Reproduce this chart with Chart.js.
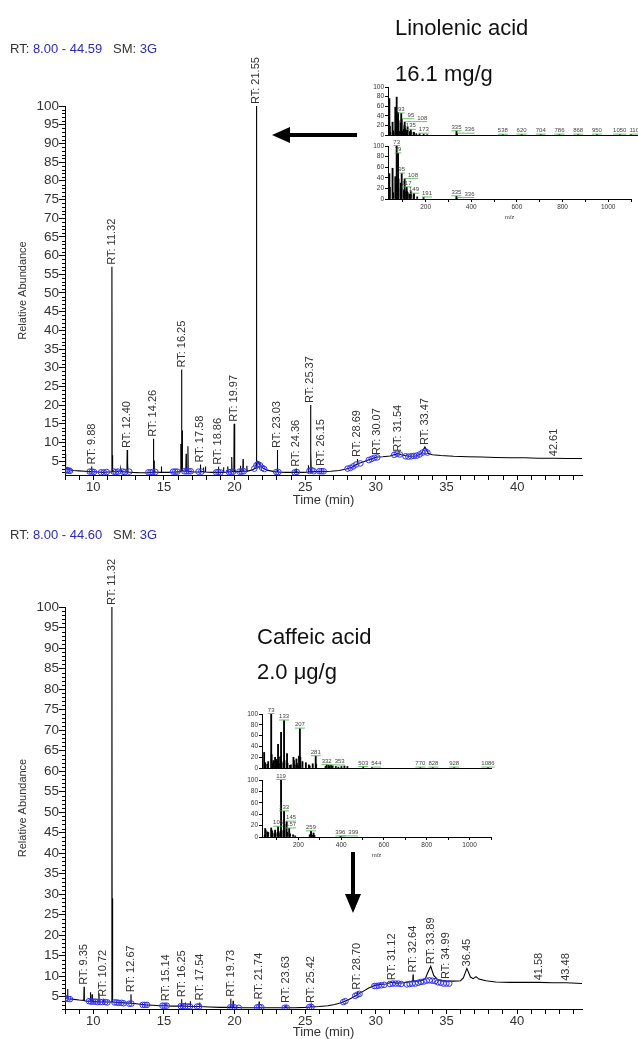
<!DOCTYPE html>
<html>
<head>
<meta charset="utf-8">
<script src="https://cdn.jsdelivr.net/npm/chart.js@4.4.0/dist/chart.umd.min.js"></script>
<style>
html, body { margin: 0; padding: 0; background: #fff; width: 638px; height: 1039px; overflow: hidden; position: relative; font-family: "Liberation Sans", Arial, sans-serif; }
canvas { position: absolute; }
.txt { position: absolute; white-space: nowrap; color: #111; }
.hdr { font-size: 13px; color: #333; line-height: 15px; }
.hdr b { font-weight: normal; color: #2b2bb8; }
.big { font-size: 22px; line-height: 25px; }
</style>
</head>
<body>
<canvas id="chrom1" width="638" height="520" style="left:0;top:0"></canvas>
<canvas id="chrom2" width="638" height="525" style="left:0;top:520px"></canvas>
<canvas id="linSample"></canvas>
<canvas id="linRef"></canvas>
<canvas id="cafSample"></canvas>
<canvas id="cafRef"></canvas>

<div class="txt hdr" style="left:10px;top:41px">RT: <b>8.00 - 44.59</b>&nbsp;&nbsp; SM: <b>3G</b></div>
<div class="txt hdr" style="left:10px;top:527px">RT: <b>8.00 - 44.60</b>&nbsp;&nbsp; SM: <b>3G</b></div>
<div class="txt big" style="left:395px;top:15px">Linolenic acid</div>
<div class="txt big" style="left:395px;top:61px">16.1 mg/g</div>
<div class="txt big" style="left:257px;top:624px">Caffeic acid</div>
<div class="txt big" style="left:257px;top:659px">2.0 μg/g</div>

<svg width="638" height="1039" style="position:absolute;left:0;top:0">
  <polygon points="272,135 290,127 290,133 357,133 357,137 290,137 290,143" fill="#000"/>
  <polygon points="351,852 355,852 355,894 361,894 353,913 345,894 351,894" fill="#000"/>
</svg>

<script>
// top run: linolenic acid sample, [time, abundance]
const trace1 = [
  [8.00,2.6],[8.03,7.0],[8.06,2.8],[8.15,3.2],[8.3,2.7],[8.6,2.5],[9.0,2.4],[9.4,2.3],[9.7,2.2],
  [9.86,2.2],[9.88,3.6],[9.90,2.2],[10.3,2.1],[10.7,2.0],[11.0,2.1],[11.30,2.1],[11.32,57],[11.34,2.4],
  [11.36,6.6],[11.38,2.3],[11.6,2.1],[11.9,2.4],[11.95,3.0],[12.0,2.2],[12.38,2.1],[12.40,8.0],[12.42,2.4],
  [12.44,4.6],[12.46,2.1],[12.8,2.0],[13.3,1.9],[13.8,1.9],[14.24,2.0],[14.26,11.0],[14.28,2.3],[14.30,5.2],
  [14.32,2.1],[14.80,2.0],[14.82,3.6],[14.84,2.0],[15.3,2.0],[15.8,2.1],[16.18,2.2],[16.20,9.6],[16.22,2.4],
  [16.25,29.5],[16.27,2.6],[16.29,13.2],[16.31,2.4],[16.55,2.3],[16.57,7.0],[16.59,2.3],[16.68,2.3],[16.70,9.0],
  [16.72,2.3],[17.1,2.1],[17.56,2.1],[17.58,4.1],[17.60,2.2],[17.78,2.2],[17.80,3.3],[17.82,2.1],[17.92,2.1],
  [17.94,3.6],[17.96,2.1],[18.4,2.0],[18.84,2.0],[18.86,3.5],[18.88,2.0],[19.20,2.0],[19.22,3.4],[19.24,2.0],
  [19.50,2.1],[19.52,3.6],[19.54,2.1],[19.78,2.2],[19.80,6.1],[19.82,2.2],[19.95,2.2],[19.97,15.0],[19.99,2.4],
  [20.01,10.6],[20.03,2.2],[20.40,2.2],[20.42,3.8],[20.44,2.2],[20.58,2.3],[20.60,5.6],[20.62,2.3],[20.85,2.3],
  [20.87,3.8],[20.89,2.3],[21.2,2.6],[21.53,3.2],[21.55,100],[21.57,3.5],[21.60,5.0],[21.7,4.6],[21.9,3.4],
  [22.3,2.6],[22.8,2.2],[23.01,2.1],[23.03,8.0],[23.05,2.1],[23.6,2.0],[24.34,2.0],[24.36,3.0],[24.38,2.0],
  [24.9,2.0],[25.20,2.1],[25.22,3.9],[25.24,2.1],[25.35,2.2],[25.37,20.0],[25.39,2.4],[25.41,7.6],[25.43,2.2],
  [25.8,2.2],[26.13,2.2],[26.15,3.2],[26.17,2.2],[26.8,2.3],[27.4,2.5],[27.9,2.9],[28.3,3.4],[28.67,4.2],
  [28.69,5.6],[28.71,4.3],[29.1,4.8],[29.5,5.4],[30.07,6.1],[30.5,6.2],[31.0,6.4],[31.54,7.0],[31.8,6.7],
  [32.3,6.3],[32.8,6.4],[33.2,6.9],[33.47,8.8],[33.7,7.1],[34.0,6.7],[34.6,6.5],[35.5,6.3],[36.5,6.2],
  [37.5,6.1],[38.5,6.0],[39.5,5.9],[40.5,5.9],[41.5,5.8],[42.61,5.8],[43.5,5.7],[44.59,5.7]
];
const marks1 = [
  [8.05,2.5],[8.15,2.6],[8.25,2.5],[8.35,2.4],[9.75,2.2],[9.9,2.2],[10.05,2.1],[10.55,2.0],[10.75,2.0],
  [10.95,2.1],[11.45,2.2],[11.6,2.1],[11.75,2.2],[12.1,2.2],[12.25,2.1],[12.55,2.2],[13.9,2.0],[14.05,2.0],
  [14.2,2.1],[14.4,2.1],[15.65,2.2],[15.8,2.2],[15.95,2.2],[16.45,2.3],[16.6,2.3],[16.75,2.3],[16.9,2.3],
  [17.45,2.2],[17.65,2.2],[18.7,2.0],[18.85,2.1],[19.0,2.0],[19.6,2.1],[19.75,2.1],[19.9,2.2],[20.35,2.2],
  [20.5,2.2],[20.65,2.3],[21.4,3.0],[21.55,3.9],[21.65,4.2],[21.8,3.9],[21.95,3.2],[22.1,2.9],[22.95,2.1],
  [23.1,2.1],[24.25,2.0],[24.4,2.1],[25.3,2.4],[25.45,2.6],[25.6,2.3],[26.0,2.3],[26.15,2.3],[26.3,2.3],
  [28.0,3.0],[28.2,3.2],[28.4,3.6],[28.6,4.1],[28.9,4.4],[29.5,5.3],[29.7,5.6],[29.9,5.9],[30.1,6.0],
  [31.3,6.7],[31.5,7.0],[31.7,6.8],[32.1,6.3],[32.3,6.2],[32.5,6.3],[32.7,6.4],[32.9,6.5],[33.1,6.8],
  [33.3,7.3],[33.5,7.6],[33.65,7.3]
];
const peak1Time = [9.88, 11.32, 12.40, 14.26, 16.25, 17.58, 18.86, 19.97, 21.55, 23.03, 24.36, 25.37, 26.15, 28.69, 30.07, 31.54, 33.47, 42.61];
const peak1Height = [3.6, 57, 8.0, 11.0, 29.5, 4.1, 3.5, 15.0, 100, 8.0, 3.0, 20.0, 3.2, 5.6, 6.1, 7.0, 8.8, 5.8];
const peak1Text = ['RT: 9.88', 'RT: 11.32', 'RT: 12.40', 'RT: 14.26', 'RT: 16.25', 'RT: 17.58', 'RT: 18.86', 'RT: 19.97', 'RT: 21.55',
  'RT: 23.03', 'RT: 24.36', 'RT: 25.37', 'RT: 26.15', 'RT: 28.69', 'RT: 30.07', 'RT: 31.54', 'RT: 33.47', '42.61'];

// bottom run: caffeic acid sample
const trace2 = [
  [8.00,4.7],[8.02,11.0],[8.04,4.8],[8.15,4.6],[8.18,6.9],[8.21,4.5],[8.5,4.4],[9.0,4.2],[9.33,4.1],[9.35,7.4],
  [9.37,4.0],[9.6,3.9],[9.78,3.9],[9.80,6.1],[9.82,3.9],[9.90,3.9],[9.92,5.6],[9.94,3.8],[10.2,3.8],[10.38,3.7],
  [10.40,5.9],[10.42,3.7],[10.70,3.7],[10.72,4.5],[10.74,3.7],[11.0,3.7],[11.30,3.7],[11.32,100],[11.34,3.8],
  [11.36,29],[11.38,3.7],[11.8,3.6],[12.2,3.5],[12.65,3.4],[12.67,5.6],[12.69,3.4],[13.2,3.2],[13.7,3.0],
  [14.2,2.9],[14.7,2.8],[15.12,2.8],[15.14,3.4],[15.16,2.8],[15.6,2.7],[16.0,2.7],[16.23,2.7],[16.25,4.4],
  [16.27,2.7],[16.5,2.7],[16.52,3.6],[16.54,2.7],[16.85,2.6],[16.87,3.9],[16.89,2.6],[17.2,2.6],[17.52,2.6],
  [17.54,3.6],[17.56,2.6],[18.2,2.5],[19.0,2.4],[19.71,2.4],[19.73,4.5],[19.75,2.4],[19.88,2.4],[19.90,4.0],
  [19.92,2.4],[20.5,2.3],[21.2,2.3],[21.72,2.3],[21.74,3.8],[21.76,2.3],[22.5,2.3],[23.2,2.3],[23.61,2.3],
  [23.63,3.0],[23.65,2.3],[24.3,2.3],[25.0,2.4],[25.40,2.5],[25.42,3.0],[25.44,2.5],[26.0,2.6],[26.6,2.8],
  [27.1,3.1],[27.6,3.6],[28.1,4.3],[28.68,5.4],[28.70,6.2],[28.72,5.5],[29.1,6.3],[29.5,7.1],[29.9,7.7],
  [30.3,8.0],[30.7,8.1],[31.12,8.5],[31.5,8.3],[32.0,8.4],[32.5,8.7],[32.62,8.8],[32.64,10.4],[32.66,8.8],
  [33.0,8.8],[33.3,9.0],[33.5,9.4],[33.7,11.0],[33.89,12.4],[34.1,10.2],[34.4,9.1],[34.99,8.8],[35.5,8.8],
  [36.0,8.9],[36.2,9.6],[36.45,11.9],[36.7,9.8],[36.9,9.4],[37.1,9.9],[37.3,9.3],[37.8,8.9],[38.5,8.6],
  [39.5,8.5],[40.5,8.5],[41.58,8.5],[42.5,8.4],[43.48,8.4],[44.60,8.2]
];
const marks2 = [
  [8.05,4.6],[8.2,4.5],[8.35,4.4],[9.7,3.9],[9.85,3.8],[10.0,3.8],[10.15,3.8],[10.3,3.7],[10.5,3.7],[10.65,3.7],
  [10.85,3.7],[11.0,3.6],[11.5,3.6],[11.65,3.6],[11.8,3.5],[12.0,3.5],[12.15,3.4],[12.55,3.3],[12.7,3.3],
  [13.5,3.0],[13.65,3.0],[13.8,3.0],[14.9,2.8],[15.05,2.8],[15.2,2.8],[16.2,2.7],[16.35,2.7],[16.5,2.6],
  [16.7,2.6],[16.85,2.6],[17.35,2.6],[17.5,2.6],[19.7,2.4],[19.85,2.4],[20.0,2.4],[20.3,2.3],[21.6,2.4],
  [21.75,2.5],[21.9,2.4],[23.55,2.3],[23.7,2.3],[25.3,2.5],[25.45,2.5],[27.7,3.7],[27.85,3.9],[28.55,5.2],
  [28.7,5.5],[28.85,5.7],[29.9,7.6],[30.05,7.6],[30.2,7.7],[30.4,7.8],[30.6,7.9],[31.0,8.1],[31.2,8.2],
  [31.4,8.2],[31.6,8.2],[31.8,8.1],[32.2,8.0],[32.4,8.1],[32.6,8.2],[32.8,8.2],[33.0,8.4],[33.2,8.6],
  [33.4,8.7],[33.6,8.9],[33.8,9.0],[34.0,8.9],[34.2,8.8],[34.4,8.5],[34.6,8.4],[34.8,8.2],[35.0,8.2],[35.2,8.2]
];
const peak2Time = [9.35, 10.72, 11.32, 12.67, 15.14, 16.25, 17.54, 19.73, 21.74, 23.63, 25.42, 28.70, 31.12, 32.64, 33.89, 34.99, 36.45, 41.58, 43.48];
const peak2Height = [7.4, 4.5, 100, 5.6, 3.4, 4.4, 3.6, 4.5, 3.8, 3.0, 3.0, 6.2, 8.5, 10.4, 12.4, 8.8, 11.9, 8.5, 8.4];
const peak2Text = ['RT: 9.35', 'RT: 10.72', 'RT: 11.32', 'RT: 12.67', 'RT: 15.14', 'RT: 16.25', 'RT: 17.54', 'RT: 19.73', 'RT: 21.74',
  'RT: 23.63', 'RT: 25.42', 'RT: 28.70', 'RT: 31.12', 'RT: 32.64', 'RT: 33.89', 'RT: 34.99', '36.45', '41.58', '43.48'];

const xMajor = [10, 15, 20, 25, 30, 35, 40];
const yMajor = [5, 10, 15, 20, 25, 30, 35, 40, 45, 50, 55, 60, 65, 70, 75, 80, 85, 90, 95, 100];

// mass spectra, [m/z, relative intensity]
const linSample = [
  [41,76],[43,18],[45,6],[55,27],[57,9],[59,5],[67,58],[69,12],[73,79],[75,37],[77,10],[79,47],[81,30],[83,8],
  [91,25],[93,45],[95,33],[97,8],[105,12],[107,20],[108,27],[109,14],[117,9],[119,12],[121,16],[131,7],[133,8],
  [135,11],[147,6],[149,5],[159,3],[173,3],[191,2],[207,1],[335,8],[336,3],[337,2],[538,1],[620,1],[704,1],
  [786,1],[868,1],[950,1],[1050,1],[1100,1]
];
const linSampleLabels = [93, 95, 108, 135, 173, 335, 336, 538, 620, 704, 786, 868, 950, 1050, 1100];
const linRef = [
  [41,48],[43,22],[55,58],[57,12],[67,42],[69,10],[73,100],[75,32],[77,12],[79,86],[80,20],[81,38],[91,30],
  [93,28],[95,48],[105,16],[107,18],[108,38],[109,14],[117,22],[119,14],[121,12],[129,9],[133,10],[135,14],
  [147,8],[149,10],[163,4],[191,3],[335,5],[336,2]
];
const linRefLabels = [73, 79, 95, 108, 117, 149, 191, 335, 336];
const cafSample = [
  [40,29],[43,6],[45,10],[55,7],[59,12],[73,100],[75,25],[77,9],[83,14],[91,20],[93,12],[97,16],[103,12],
  [105,44],[109,8],[115,20],[117,22],[119,66],[121,12],[131,9],[133,88],[135,14],[147,27],[149,9],[161,5],
  [165,6],[177,20],[179,14],[183,6],[191,17],[193,9],[197,5],[203,22],[207,73],[209,20],[219,12],[235,10],
  [249,6],[253,4],[267,8],[281,22],[283,7],[327,3],[332,6],[341,5],[345,4],[353,5],[360,4],[375,3],[387,2],
  [401,3],[415,4],[429,3],[503,2],[544,1],[770,1],[828,1],[928,1],[1086,1]
];
const cafSampleLabels = [73, 133, 207, 281, 332, 353, 503, 544, 770, 828, 928, 1086];
const cafRef = [
  [43,4],[45,15],[47,12],[55,9],[59,8],[73,16],[75,12],[77,10],[79,7],[89,6],[91,12],[93,6],[103,8],[105,18],
  [107,9],[115,6],[117,10],[119,100],[121,12],[131,10],[133,45],[134,12],[135,22],[145,27],[147,8],[157,15],
  [159,6],[161,5],[175,4],[185,2],[253,4],[259,10],[261,4],[267,3],[271,7],[275,3],[396,1],[399,1]
];
const cafRefLabels = [105, 119, 133, 145, 157, 259, 396, 399];
const mzMajor = [200, 400, 600, 800, 1000];
const intTicks = [0, 20, 40, 60, 80, 100];

Chart.defaults.font.family = '"Liberation Sans", Arial, sans-serif';
Chart.defaults.color = '#333';

function rtLabels(times, heights, texts) {
  return {
    id: 'rtLabels',
    afterDatasetsDraw(chart) {
      const { ctx, scales: { x, y } } = chart;
      ctx.save();
      // minor ticks on the abundance axis
      ctx.strokeStyle = '#000';
      ctx.lineWidth = 1;
      ctx.beginPath();
      for (let v = Math.ceil(y.min); v < 100; v++) {
        if (v % 5 === 0) continue;
        const py = Math.round(y.getPixelForValue(v)) + 0.5;
        ctx.moveTo(x.left - 3, py);
        ctx.lineTo(x.left, py);
      }
      ctx.stroke();
      ctx.fillStyle = '#333';
      ctx.font = '11px "Liberation Sans", Arial';
      ctx.textAlign = 'left';
      ctx.textBaseline = 'middle';
      times.forEach((t, i) => {
        const px = x.getPixelForValue(t);
        const py = y.getPixelForValue(heights[i]) - 2;
        ctx.save();
        ctx.translate(px, py);
        ctx.rotate(-Math.PI / 2);
        ctx.fillText(texts[i], 0, 0);
        ctx.restore();
      });
      ctx.restore();
    }
  };
}

function chromChart(id, trace, marks, pkT, pkH, pkTxt, xMax, yMin, pad, xH) {
  return new Chart(document.getElementById(id), {
    type: 'line',
    data: {
      datasets: [
        { data: marks.map(p => ({ x: p[0], y: p[1] })), showLine: false, pointRadius: 2.8,
          pointBorderColor: '#2f2fff', pointBackgroundColor: 'rgba(0,0,0,0)', pointBorderWidth: 1, order: 1 },
        { data: trace.map(p => ({ x: p[0], y: p[1] })), borderColor: '#000', borderWidth: 1.1,
          pointRadius: 0, tension: 0, order: 2 }
      ]
    },
    options: {
      responsive: false,
      animation: false,
      layout: { padding: pad },
      plugins: { legend: { display: false }, tooltip: { enabled: false } },
      scales: {
        x: {
          type: 'linear', min: 8, max: xMax,
          afterFit: s => { s.height = xH; },
          afterBuildTicks: s => {
            const t = [];
            for (let v = 8; v <= xMax; v++) t.push({ value: v });
            s.ticks = t;
          },
          ticks: { autoSkip: false, maxRotation: 0, padding: 0, font: { size: 13 },
                   callback: v => xMajor.includes(v) ? String(v) : '' },
          grid: { drawOnChartArea: false, tickLength: 5, color: '#000' },
          border: { color: '#000' },
          title: { display: true, text: 'Time (min)', font: { size: 13 }, padding: 0 }
        },
        y: {
          min: yMin, max: 100,
          afterFit: s => { s.width = 65; },
          afterBuildTicks: s => { s.ticks = yMajor.map(v => ({ value: v })); },
          ticks: { autoSkip: false, padding: 0, font: { size: 13.5 } },
          grid: { drawOnChartArea: false, tickLength: 6, color: '#000' },
          border: { color: '#000' },
          title: { display: true, text: 'Relative Abundance', font: { size: 11 }, padding: { top: 16, bottom: 0 } }
        }
      }
    },
    plugins: [rtLabels(pkT, pkH, pkTxt)]
  });
}

function specLabels(bars, labelMz) {
  return {
    id: 'specLabels',
    afterDatasetsDraw(chart) {
      const { ctx, scales: { x, y } } = chart;
      ctx.save();
      ctx.font = '6px "Liberation Sans", Arial';
      ctx.textAlign = 'left';
      ctx.textBaseline = 'bottom';
      const placed = [];
      labelMz.forEach(mz => {
        const bar = bars.find(b => b[0] === mz);
        const bx = x.getPixelForValue(mz);
        const by = y.getPixelForValue(bar ? bar[1] : 0) - 1;
        const txt = String(mz);
        const w = ctx.measureText(txt).width;
        let tx = bx - w / 2;
        placed.forEach(p => {
          if (Math.abs(p.y - by) < 6 && tx < p.x + p.w + 3) tx = p.x + p.w + 3;
        });
        placed.push({ x: tx, y: by, w: w });
        ctx.strokeStyle = '#3cb83c';
        ctx.lineWidth = 0.8;
        ctx.beginPath();
        ctx.moveTo(Math.min(bx, tx), by + 0.5);
        ctx.lineTo(tx + w, by + 0.5);
        ctx.stroke();
        ctx.fillStyle = '#444';
        ctx.fillText(txt, tx, by);
      });
      ctx.restore();
    }
  };
}

// area: pixel rectangle of the plot on the page
function specChart(id, bars, labelMz, xMin, xMax, withAxis, area, padTop, padRight) {
  const yW = 22, xH = withAxis ? 22 : 2;
  const cv = document.getElementById(id);
  cv.width = Math.round(yW + (area.r - area.l) + padRight);
  cv.height = Math.round(padTop + (area.b - area.t) + xH);
  cv.style.left = (area.l - yW) + 'px';
  cv.style.top = (area.t - padTop) + 'px';
  return new Chart(cv, {
    type: 'bar',
    data: { datasets: [{ data: bars.map(b => ({ x: b[0], y: b[1] })), backgroundColor: '#000',
                         borderWidth: 0, barThickness: 1.2 }] },
    options: {
      responsive: false,
      animation: false,
      layout: { padding: { top: padTop, right: padRight, left: 0, bottom: 0 } },
      plugins: { legend: { display: false }, tooltip: { enabled: false } },
      scales: {
        x: {
          type: 'linear', min: xMin, max: xMax, offset: false,
          afterFit: s => { s.height = xH; },
          afterBuildTicks: s => {
            const t = [];
            for (let v = 100; v <= xMax; v += 100) t.push({ value: v });
            s.ticks = t;
          },
          ticks: { display: withAxis, autoSkip: false, maxRotation: 0, padding: 1, font: { size: 6.5 },
                   callback: v => mzMajor.includes(v) ? String(v) : '' },
          grid: { display: withAxis, drawOnChartArea: false, offset: false, tickLength: 3, color: '#000' },
          border: { display: true, color: '#000' },
          title: { display: withAxis, text: 'm/z', font: { size: 6 }, padding: 0 }
        },
        y: {
          min: 0, max: 100,
          afterFit: s => { s.width = yW; },
          afterBuildTicks: s => { s.ticks = intTicks.map(v => ({ value: v })); },
          ticks: { autoSkip: false, padding: 1, font: { size: 6.5 } },
          grid: { drawOnChartArea: false, tickLength: 3, color: '#000' },
          border: { color: '#000' }
        }
      }
    },
    plugins: [specLabels(bars, labelMz)]
  });
}

chromChart('chrom1', trace1, marks1, peak1Time, peak1Height, peak1Text, 44.59, 1.3,
  { top: 106, right: 56, bottom: 12, left: 0 }, 33);
chromChart('chrom2', trace2, marks2, peak2Time, peak2Height, peak2Text, 44.60, 2.0,
  { top: 87, right: 56, bottom: 5, left: 0 }, 31);

specChart('linSample', linSample, linSampleLabels, 35, 1200, false, { l: 388, t: 86.5, r: 654, b: 137.5 }, 8, 4);
specChart('linRef', linRef, linRefLabels, 35, 1100, true, { l: 388, t: 146, r: 631, b: 198.5 }, 7, 8);
specChart('cafSample', cafSample, cafSampleLabels, 30, 1100, false, { l: 262, t: 714, r: 491, b: 771 }, 7, 8);
specChart('cafRef', cafRef, cafRefLabels, 30, 1100, true, { l: 262, t: 780, r: 491, b: 836.7 }, 8, 8);
</script>
</body>
</html>
